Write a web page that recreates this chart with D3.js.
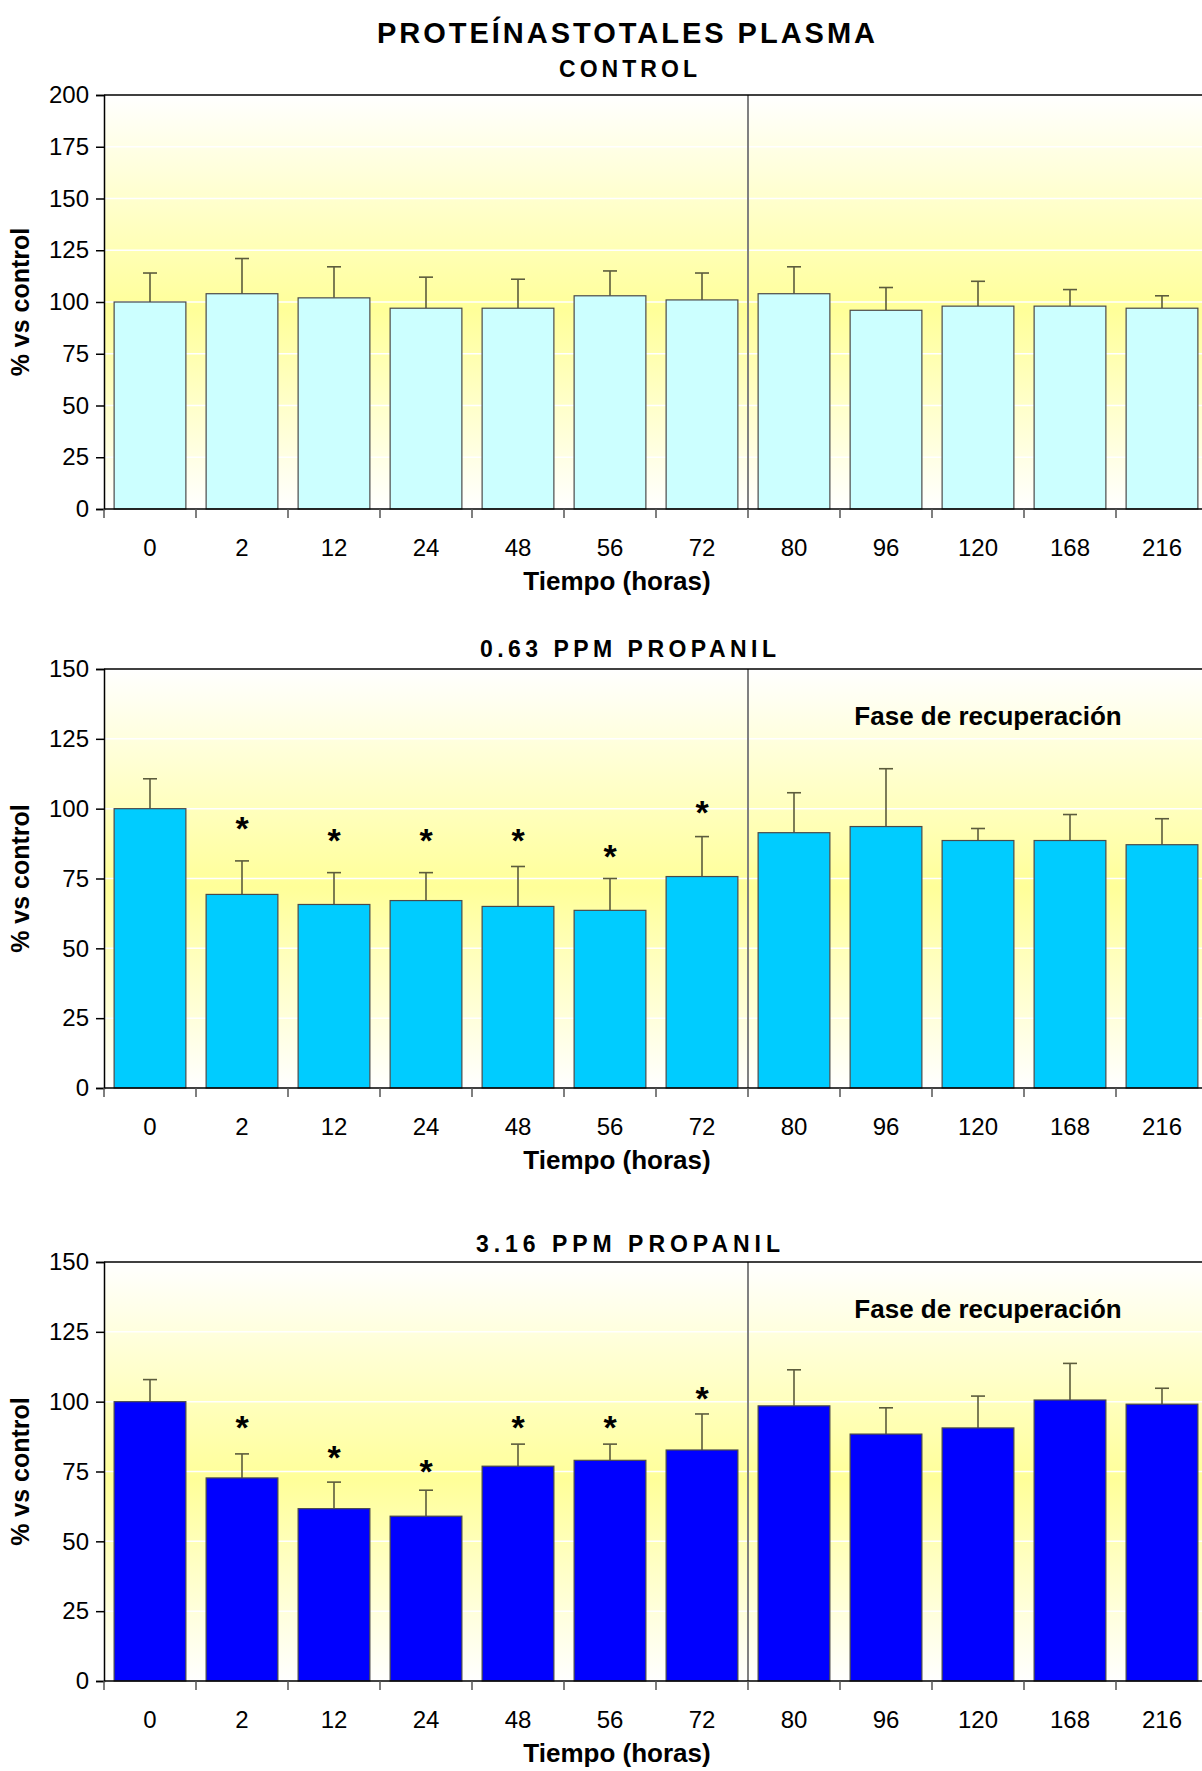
<!DOCTYPE html>
<html>
<head>
<meta charset="utf-8">
<script src="https://cdn.jsdelivr.net/npm/d3@7"></script>
<style>
  html, body { margin: 0; padding: 0; background: #ffffff; }
  svg { display: block; font-family: "Liberation Sans", Arial, sans-serif; }
</style>
</head>
<body>
<svg id="fig" width="1202" height="1771"></svg>
<script>
// Sampling times (hours)
const categories = ["0", "2", "12", "24", "48", "56", "72", "80", "96", "120", "168", "216"];

// CONTROL group: mean (% vs control) and upper error (SD)
const controlMean = [100, 104, 102, 97, 97, 103, 101, 104, 96, 98, 98, 97];
const controlSD   = [14, 17, 15, 15, 14, 12, 13, 13, 11, 12, 8, 6];

// 0.63 ppm propanil group
const lowMean  = [100, 69.3, 65.7, 67.1, 65, 63.6, 75.7, 91.4, 93.6, 88.6, 88.6, 87.1];
const lowSD    = [10.7, 12, 11.4, 10, 14.3, 11.4, 14.3, 14.3, 20.7, 4.3, 9.3, 9.3];
const lowStar  = [null, 95, 90.5, 90.5, 90.5, 85, 100.5, null, null, null, null, null];

// 3.16 ppm propanil group
const highMean = [100, 72.7, 61.7, 59, 76.9, 79, 82.7, 98.5, 88.4, 90.6, 100.6, 99.1];
const highSD   = [7.9, 8.6, 9.5, 9.3, 7.9, 5.8, 12.9, 12.9, 9.4, 11.4, 13.1, 5.7];
const highStar = [null, 92.8, 81.9, 76.9, 92.8, 92.8, 103, null, null, null, null, null];

// Tick values for the two y-axis ranges
const ticks200 = [0, 25, 50, 75, 100, 125, 150, 175, 200];
const ticks150 = [0, 25, 50, 75, 100, 125, 150];

const panels = [
  { title: "CONTROL", titleLen: 138, mean: controlMean, sd: controlSD, star: null,
    fill: "#CCFFFF", yMax: 200, ticks: ticks200, top: 95, bottom: 509, titleY: 77, recovery: false },
  { title: "0.63 PPM PROPANIL", titleLen: 296, mean: lowMean, sd: lowSD, star: lowStar,
    fill: "#00CCFF", yMax: 150, ticks: ticks150, top: 669, bottom: 1088, titleY: 657, recovery: true },
  { title: "3.16 PPM PROPANIL", titleLen: 304, mean: highMean, sd: highSD, star: highStar,
    fill: "#0000FF", yMax: 150, ticks: ticks150, top: 1262, bottom: 1681, titleY: 1252, recovery: true }
];

const svg = d3.select("#fig");
const left = 104, right = 1208;
const font = "'Liberation Sans', Arial, sans-serif";

// shared background gradient (white - light yellow - white)
const defs = svg.append("defs");
const grad = defs.append("linearGradient").attr("id", "bg").attr("x1", 0).attr("y1", 0).attr("x2", 0).attr("y2", 1);
grad.append("stop").attr("offset", "0%").attr("stop-color", "#FFFFFF");
grad.append("stop").attr("offset", "52%").attr("stop-color", "#FFFF99");
grad.append("stop").attr("offset", "100%").attr("stop-color", "#FFFFFF");

// main heading
svg.append("text")
  .attr("x", 626).attr("y", 43)
  .attr("text-anchor", "middle")
  .attr("font-size", 29).attr("font-weight", "bold")
  .attr("textLength", 498).attr("lengthAdjust", "spacing")
  .text("PROTEÍNASTOTALES PLASMA");

const x = d3.scaleBand().domain(categories).range([left, right]).paddingInner(0.22).paddingOuter(0.11);
const step = x.step();

panels.forEach(p => {
  const y = d3.scaleLinear().domain([0, p.yMax]).range([p.bottom, p.top]);
  const g = svg.append("g");

  // plot area background
  g.append("rect")
    .attr("x", left).attr("y", p.top)
    .attr("width", right - left).attr("height", p.bottom - p.top)
    .attr("fill", "url(#bg)");

  // white gridlines
  g.append("g").selectAll("line")
    .data(p.ticks.filter(t => t > 0 && t < p.yMax))
    .join("line")
    .attr("x1", left).attr("x2", right)
    .attr("y1", d => y(d)).attr("y2", d => y(d))
    .attr("stroke", "#ffffff").attr("stroke-width", 1.5);

  // phase divider between 72 h and 80 h
  const dx = left + 7 * step;
  g.append("line")
    .attr("x1", dx).attr("x2", dx)
    .attr("y1", p.top).attr("y2", p.bottom)
    .attr("stroke", "#808080").attr("stroke-width", 2);

  // error bars (upper only)
  const eb = g.append("g").attr("stroke", "#5c5c3d").attr("stroke-width", 1.6);
  categories.forEach((c, i) => {
    const cx = x(c) + x.bandwidth() / 2;
    eb.append("line").attr("x1", cx).attr("x2", cx)
      .attr("y1", y(p.mean[i])).attr("y2", y(p.mean[i] + p.sd[i]));
    eb.append("line").attr("x1", cx - 7).attr("x2", cx + 7)
      .attr("y1", y(p.mean[i] + p.sd[i])).attr("y2", y(p.mean[i] + p.sd[i]));
  });

  // bars
  g.append("g").selectAll("rect")
    .data(categories)
    .join("rect")
    .attr("x", d => x(d))
    .attr("y", (d, i) => y(p.mean[i]))
    .attr("width", x.bandwidth())
    .attr("height", (d, i) => y(0) - y(p.mean[i]))
    .attr("fill", p.fill)
    .attr("stroke", "#4a4a4a").attr("stroke-width", 1.2);

  // significance marks
  if (p.star) {
    g.append("g").selectAll("text")
      .data(categories.map((c, i) => ({ c, v: p.star[i] })).filter(d => d.v != null))
      .join("text")
      .attr("x", d => x(d.c) + x.bandwidth() / 2)
      .attr("y", d => y(d.v) + 17)
      .attr("text-anchor", "middle")
      .attr("font-size", 34).attr("font-weight", "bold")
      .text("*");
  }

  // plot top border
  g.append("line")
    .attr("x1", left).attr("x2", right)
    .attr("y1", p.top).attr("y2", p.top)
    .attr("stroke", "#000").attr("stroke-width", 1.5);

  // y axis
  const yAxis = g.append("g")
    .attr("transform", `translate(${left},0)`)
    .call(d3.axisLeft(y).tickValues(p.ticks).tickSize(8).tickPadding(7));
  yAxis.select(".domain").attr("stroke", "#000").attr("stroke-width", 1.5);
  yAxis.selectAll(".tick line").attr("stroke", "#000").attr("stroke-width", 1.5);
  yAxis.selectAll("text").attr("font-size", 24).attr("font-family", font).attr("fill", "#000");

  // x axis: ticks between categories, labels centred on bars
  const xAxis = g.append("g").attr("transform", `translate(0,${p.bottom})`);
  xAxis.append("line").attr("x1", left).attr("x2", right).attr("y1", 0).attr("y2", 0)
    .attr("stroke", "#000").attr("stroke-width", 1.5);
  xAxis.selectAll("line.tk")
    .data(d3.range(categories.length + 1))
    .join("line").attr("class", "tk")
    .attr("x1", i => left + i * step).attr("x2", i => left + i * step)
    .attr("y1", 0).attr("y2", 9)
    .attr("stroke", "#555").attr("stroke-width", 1.5);
  xAxis.selectAll("text")
    .data(categories)
    .join("text")
    .attr("x", d => x(d) + x.bandwidth() / 2)
    .attr("y", 47)
    .attr("text-anchor", "middle")
    .attr("font-size", 24)
    .text(d => d);

  // x axis title
  g.append("text")
    .attr("x", 617).attr("y", p.bottom + 81)
    .attr("text-anchor", "middle")
    .attr("font-size", 26).attr("font-weight", "bold")
    .text("Tiempo (horas)");

  // y axis title
  g.append("text")
    .attr("transform", `translate(29,${(p.top + p.bottom) / 2}) rotate(-90)`)
    .attr("text-anchor", "middle")
    .attr("font-size", 25).attr("font-weight", "bold")
    .text("% vs control");

  // panel title
  g.append("text")
    .attr("x", 628).attr("y", p.titleY)
    .attr("text-anchor", "middle")
    .attr("font-size", 23).attr("font-weight", "bold")
    .attr("textLength", p.titleLen).attr("lengthAdjust", "spacing")
    .text(p.title);

  if (p.recovery) {
    g.append("text")
      .attr("x", 988).attr("y", p.top + 56)
      .attr("text-anchor", "middle")
      .attr("font-size", 26).attr("font-weight", "bold")
      .text("Fase de recuperación");
  }
});
</script>
</body>
</html>
